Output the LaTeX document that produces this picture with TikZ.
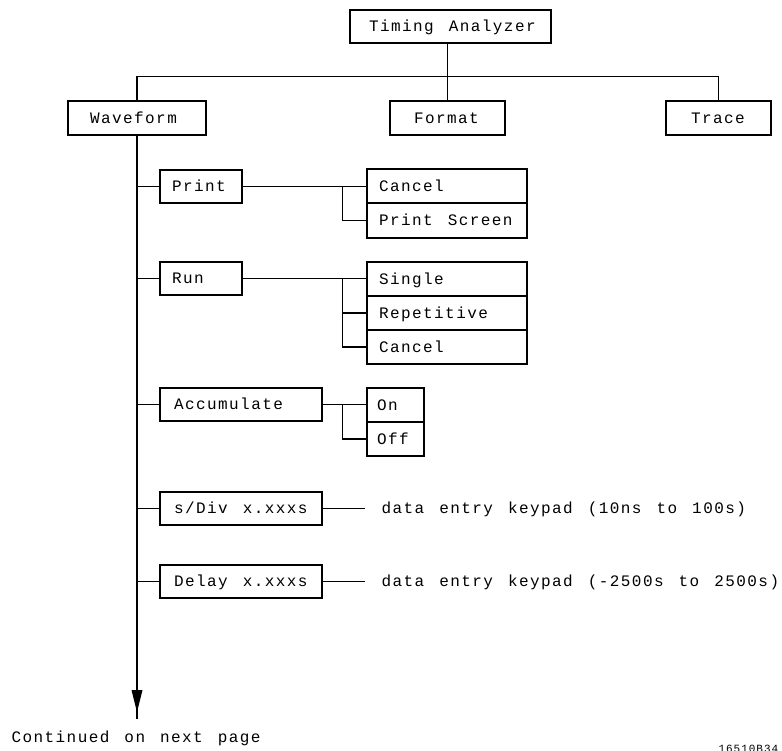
\documentclass[tikz,border=0pt]{standalone}
\usepackage{fontspec}
\newfontfamily\plotfont{Liberation Mono}[LetterSpace=9]
\newcommand\plotsize{\plotfont\fontsize{16}{18}\selectfont\spaceskip=15pt\relax}
\begin{document}
\begin{tikzpicture}[x=1pt,y=-1pt,
  line width=1.1pt,
  box/.style={draw, rectangle, inner sep=0pt},
  lbl/.style={inner sep=0pt, text height=10.5pt, text depth=0pt,
    font=\plotsize}]
\useasboundingbox (0,0) rectangle (782,750);
% \bx{name}{x1}{y1}{x2}{y2}{pad}{text}
\newcommand\bx[7]{%
  \node[box, minimum width={(#4-#2)*1pt}, minimum height={(#5-#3)*1pt}]
    (#1) at ({(#2+#4)/2},{(#3+#5)/2}) {};
  \node[lbl, anchor=west] (#1t) at ([xshift=#6pt]#1.west) {#7};}
\bx{ta}{350}{10}{551}{43}{19}{Timing Analyzer}
\bx{wave}{68}{101}{206}{135}{22}{Waveform}
\bx{format}{390}{101}{505}{135}{24}{Format}
\bx{trace}{666}{101}{771}{135}{25}{Trace}
\bx{print}{160}{170}{242}{203}{12}{Print}
\bx{pcancel}{367}{169}{527}{203}{12}{Cancel}
\bx{pscreen}{367}{203}{527}{238}{12}{Print Screen}
\bx{run}{160}{262}{242}{295}{12}{Run}
\bx{single}{367}{262}{527}{296}{12}{Single}
\bx{repet}{367}{296}{527}{330}{12}{Repetitive}
\bx{rcancel}{367}{330}{527}{364}{12}{Cancel}
\bx{accum}{160}{388}{322}{421}{14}{Accumulate}
\bx{on}{367}{388}{424}{422}{10}{On}
\bx{off}{367}{422}{424}{456}{10}{Off}
\bx{sdiv}{160}{492}{322}{525}{14}{s/Div x.xxxs}
\bx{delay}{160}{565}{322}{598}{14}{Delay x.xxxs}
\node[lbl, anchor=west, inner xsep=16pt] (sdivt) at (365,508.5) {data entry keypad (10ns to 100s)};
\node[lbl, anchor=west, inner xsep=16pt] (delayt) at (365,581.5) {data entry keypad (-2500s to 2500s)};
\node[lbl, anchor=base west, text height=, text depth=] (cont) at (11,742) {Continued on next page};
\node[inner sep=0pt, anchor=base west, font=\plotfont\fontsize{11}{12}\selectfont] (fig) at (718,752.5) {16510B34};
\coordinate (end) at (137,719);
% top tree
\draw (format.north |- ta.south) -- (format.north);
\draw (wave.north) -- ++(0,-24) -| (trace.north);
% main spine
\draw (wave.south) -- (end);
\fill (131.5,690) -- (142.5,690) -- (137,712) -- cycle;
% branches
\foreach \n in {print,run,accum,sdiv,delay}
  \draw (wave.south |- \n.west) -- (\n.west);
\draw (print.east) -- (print.east -| pcancel.west);
\draw (pcancel.west) ++(-24,0) |- (pscreen.west);
\draw (run.east) -- (run.east -| single.west);
\draw (single.west) ++(-24,0) |- (rcancel.west);
\draw (repet.west) -- ++(-24,0);
\draw (accum.east) -- (accum.east -| on.west);
\draw (on.west) ++(-24,0) |- (off.west);
\draw (sdiv.east) -- (sdivt.west);
\draw (delay.east) -- (delayt.west);
\end{tikzpicture}
\end{document}
